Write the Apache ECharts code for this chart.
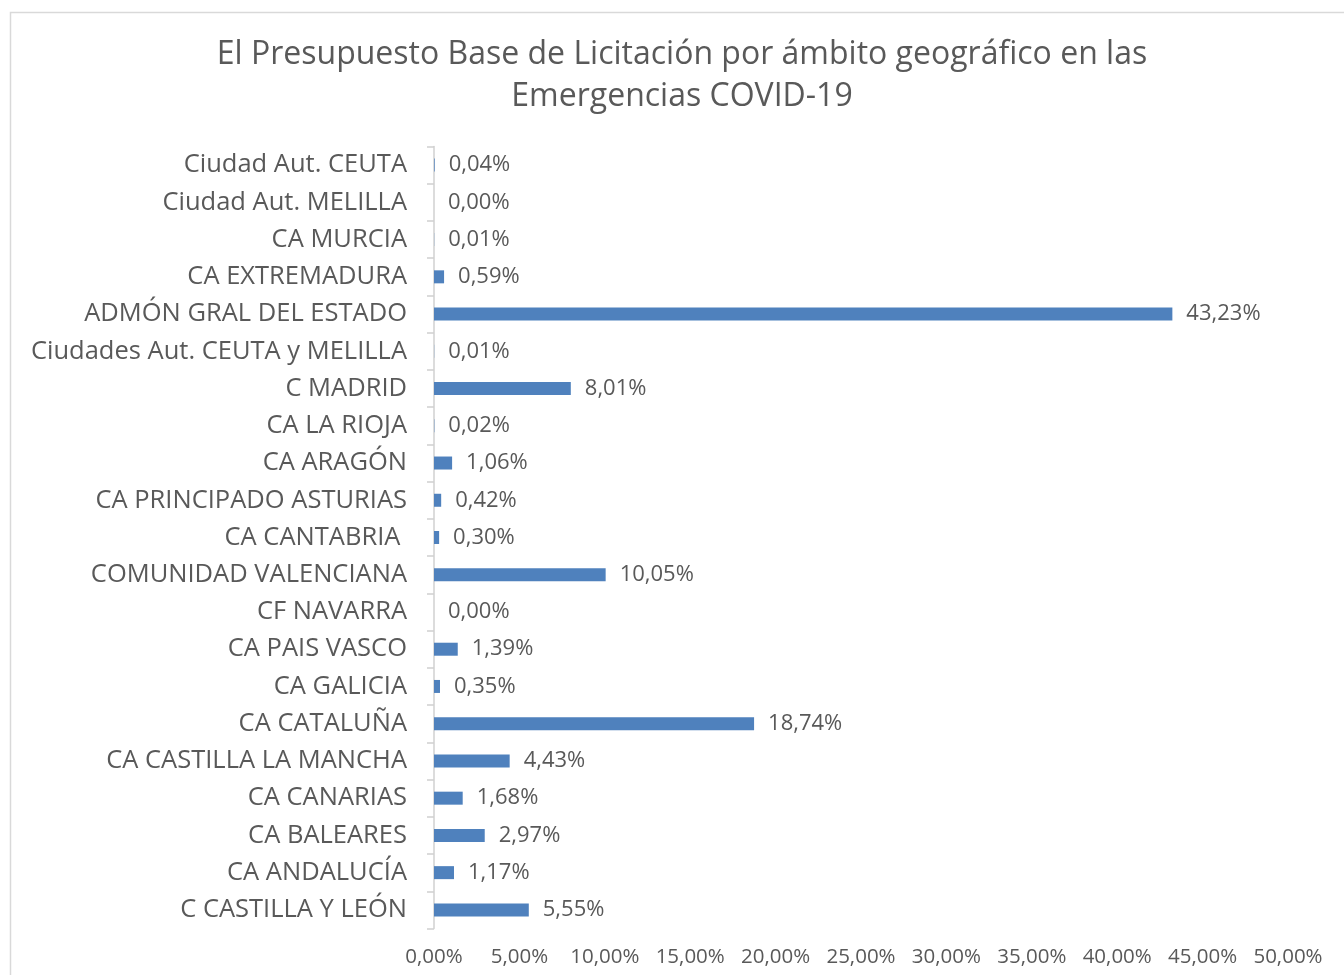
<!DOCTYPE html>
<html>
<head>
<meta charset="utf-8">
<script src="https://cdn.jsdelivr.net/npm/echarts@6/dist/echarts.min.js"></script>
<style>html,body{margin:0;padding:0;background:#fff}#c{width:1344px;height:975px}</style>
</head>
<body>
<div id="c"></div>
<script>
const titleLines = ["El Presupuesto Base de Licitación por ámbito geográfico en las", "Emergencias COVID-19"];
// bottom to top
const categories = ["C CASTILLA Y LEÓN", "CA ANDALUCÍA", "CA BALEARES", "CA CANARIAS", "CA CASTILLA LA MANCHA", "CA CATALUÑA", "CA GALICIA", "CA PAIS VASCO", "CF NAVARRA", "COMUNIDAD VALENCIANA", "CA CANTABRIA ", "CA PRINCIPADO ASTURIAS", "CA ARAGÓN", "CA LA RIOJA", "C MADRID", "Ciudades Aut. CEUTA y MELILLA", "ADMÓN GRAL DEL ESTADO", "CA EXTREMADURA", "CA MURCIA", "Ciudad Aut. MELILLA", "Ciudad Aut. CEUTA"];
const values = [5.55, 1.17, 2.97, 1.68, 4.43, 18.74, 0.35, 1.39, 0.00, 10.05, 0.30, 0.42, 1.06, 0.02, 8.01, 0.01, 43.23, 0.59, 0.01, 0.00, 0.04];
const xMin = 0, xMax = 50, xInterval = 5;

const font = "'Open Sans', 'Noto Sans', sans-serif";
const fmt = v => v.toFixed(2).replace('.', ',') + '%';

const chart = echarts.init(document.getElementById('c'));
chart.setOption({
  animation: false,
  backgroundColor: '#fff',
  graphic: [
    { type: 'rect', shape: { x: 10.5, y: 12.5, width: 1360, height: 1000 }, style: { fill: 'none', stroke: '#d9d9d9', lineWidth: 1.5 }, z: -1 },
    { type: 'text', x: 682, y: 55, style: { text: titleLines[0], fill: '#595959', font: '32px ' + font, align: 'center', verticalAlign: 'middle' } },
    { type: 'text', x: 682, y: 97, style: { text: titleLines[1], fill: '#595959', font: '32px ' + font, align: 'center', verticalAlign: 'middle' } }
  ],
  grid: { left: 434, right: 56, top: 146.5, bottom: 46.5, containLabel: false },
  xAxis: {
    type: 'value', min: xMin, max: xMax, interval: xInterval,
    axisLine: { show: false }, axisTick: { show: false }, splitLine: { show: false },
    axisLabel: { color: '#595959', fontFamily: font, fontSize: 20.5, margin: 18, formatter: v => fmt(v) }
  },
  yAxis: {
    type: 'category', data: categories,
    axisLine: { show: true, lineStyle: { color: '#d0d0d0', width: 1.5 } },
    axisTick: { show: true, length: 7, lineStyle: { color: '#d0d0d0', width: 1.5 } },
    axisLabel: { color: '#595959', fontFamily: font, fontSize: 25.5, margin: 27 }
  },
  series: [{
    type: 'bar', data: values, barWidth: 13,
    itemStyle: { color: '#4f81bd' },
    label: { show: true, position: 'right', distance: 14, color: '#595959', fontFamily: font, fontSize: 22, formatter: p => fmt(p.value) }
  }]
});
</script>
</body>
</html>
